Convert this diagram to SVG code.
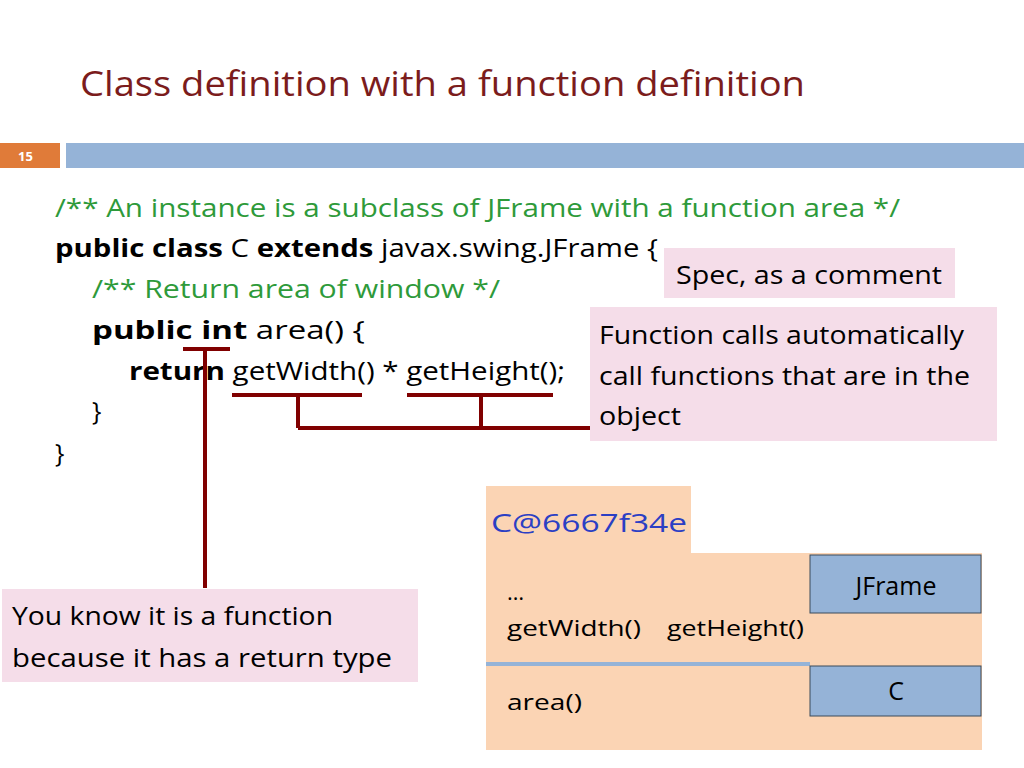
<svg xmlns="http://www.w3.org/2000/svg" width="1024" height="768" viewBox="0 0 1024 768">
<style>
text{font-family:"Open Sans","Liberation Sans",sans-serif;font-size:25px;fill:#000}
.g{fill:#2e9a3a}
.b{font-weight:bold}
.ln{stroke:#800000;stroke-width:4;fill:none}
.pink{fill:#f5dde9}
.blue{fill:#95b3d7;stroke:#3a4a5a;stroke-width:1}
</style>
<rect width="1024" height="768" fill="#fff"/>
<text x="80" y="96" textLength="725" lengthAdjust="spacingAndGlyphs" style="font-size:34px;fill:#7b1c1c">Class definition with a function definition</text>
<rect x="0" y="143" width="60" height="25" fill="#e07b39"/>
<text x="18" y="161" style="font-size:13px;fill:#fff;font-weight:bold">15</text>
<rect x="66" y="143" width="958" height="25" fill="#95b3d7"/>
<g id="code">
<text x="55" y="217" class="g" textLength="845" lengthAdjust="spacingAndGlyphs">/** An instance is a subclass of JFrame with a function area */</text>
<text x="55" y="257" textLength="603" lengthAdjust="spacingAndGlyphs"><tspan class="b">public class</tspan> C <tspan class="b">extends</tspan> javax.swing.JFrame {</text>
<text x="92" y="298" class="g" textLength="408" lengthAdjust="spacingAndGlyphs">/** Return area of window */</text>
<text x="92" y="339" textLength="273" lengthAdjust="spacingAndGlyphs"><tspan class="b">public int</tspan> area() {</text>
<text x="129" y="380" textLength="436" lengthAdjust="spacingAndGlyphs"><tspan class="b">return</tspan> getWidth() * getHeight();</text>
<text x="92" y="420">}</text>
<text x="55" y="462">}</text>
</g>
<g id="spec"><rect x="664" y="248" width="291" height="50" class="pink"/><text x="676" y="284" textLength="266" lengthAdjust="spacingAndGlyphs">Spec, as a comment</text></g>
<g id="calls"><rect x="590" y="307" width="407" height="134" class="pink"/>
<text x="599" y="344" textLength="365" lengthAdjust="spacingAndGlyphs">Function calls automatically</text><text x="599" y="385" textLength="371" lengthAdjust="spacingAndGlyphs">call functions that are in the</text><text x="599" y="425" textLength="82" lengthAdjust="spacingAndGlyphs">object</text></g>
<g id="connectors">
<path class="ln" d="M183 349H230M205 349V588"/>
<path class="ln" d="M232 395H362M407 395H553M298 395V428M481 395V428M298 428H590"/>
</g>
<g id="rettype"><rect x="2" y="589" width="416" height="93" class="pink"/>
<text x="12" y="625" textLength="321" lengthAdjust="spacingAndGlyphs">You know it is a function</text><text x="12" y="667" textLength="380" lengthAdjust="spacingAndGlyphs">because it has a return type</text></g>
<g id="object">
<rect x="486" y="486" width="205" height="68" fill="#fbd4b4"/>
<rect x="486" y="553" width="496" height="197" fill="#fbd4b4"/>
<text x="491" y="532" style="fill:#2b3fc4" textLength="196" lengthAdjust="spacingAndGlyphs">C@6667f34e</text>
<text x="507" y="600" style="font-size:22px">…</text>
<text x="507" y="636" style="font-size:22px" textLength="134" lengthAdjust="spacingAndGlyphs">getWidth()</text>
<text x="667" y="636" style="font-size:22px" textLength="137" lengthAdjust="spacingAndGlyphs">getHeight()</text>
<line x1="486" y1="664" x2="810" y2="664" stroke="#95b3d7" stroke-width="4"/>
<text x="507" y="710" style="font-size:22px" textLength="75" lengthAdjust="spacingAndGlyphs">area()</text>
</g>
<g id="jframe"><rect x="810" y="555" width="171" height="58" class="blue"/><text x="896" y="595" text-anchor="middle">JFrame</text></g>
<g id="c"><rect x="810" y="666" width="171" height="50" class="blue"/><text x="896" y="700" text-anchor="middle">C</text></g>
</svg>
